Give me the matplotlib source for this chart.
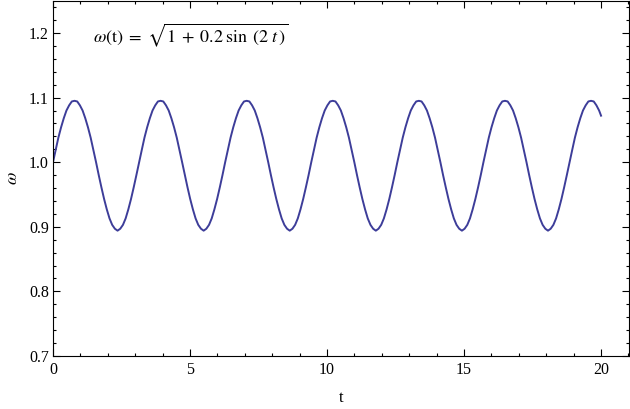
import matplotlib
matplotlib.use("Agg")
import matplotlib.pyplot as plt
from matplotlib.ticker import MultipleLocator

# samples of omega(t)
t = [0.000, 0.098, 0.196, 0.295, 0.393, 0.491, 0.589, 0.687,
     0.785, 0.884, 0.982, 1.080, 1.178, 1.276, 1.374, 1.473,
     1.571, 1.669, 1.767, 1.865, 1.963, 2.062, 2.160, 2.258,
     2.356, 2.454, 2.553, 2.651, 2.749, 2.847, 2.945, 3.043,
     3.142, 3.240, 3.338, 3.436, 3.534, 3.632, 3.731, 3.829,
     3.927, 4.025, 4.123, 4.222, 4.320, 4.418, 4.516, 4.614,
     4.712, 4.811, 4.909, 5.007, 5.105, 5.203, 5.301, 5.400,
     5.498, 5.596, 5.694, 5.792, 5.890, 5.989, 6.087, 6.185,
     6.283, 6.381, 6.480, 6.578, 6.676, 6.774, 6.872, 6.970,
     7.069, 7.167, 7.265, 7.363, 7.461, 7.559, 7.658, 7.756,
     7.854, 7.952, 8.050, 8.149, 8.247, 8.345, 8.443, 8.541,
     8.639, 8.738, 8.836, 8.934, 9.032, 9.130, 9.228, 9.327,
     9.425, 9.523, 9.621, 9.719, 9.817, 9.916, 10.014, 10.112,
     10.210, 10.308, 10.407, 10.505, 10.603, 10.701, 10.799, 10.897,
     10.996, 11.094, 11.192, 11.290, 11.388, 11.486, 11.585, 11.683,
     11.781, 11.879, 11.977, 12.075, 12.174, 12.272, 12.370, 12.468,
     12.566, 12.665, 12.763, 12.861, 12.959, 13.057, 13.155, 13.254,
     13.352, 13.450, 13.548, 13.646, 13.744, 13.843, 13.941, 14.039,
     14.137, 14.235, 14.334, 14.432, 14.530, 14.628, 14.726, 14.824,
     14.923, 15.021, 15.119, 15.217, 15.315, 15.413, 15.512, 15.610,
     15.708, 15.806, 15.904, 16.002, 16.101, 16.199, 16.297, 16.395,
     16.493, 16.592, 16.690, 16.788, 16.886, 16.984, 17.082, 17.181,
     17.279, 17.377, 17.475, 17.573, 17.671, 17.770, 17.868, 17.966,
     18.064, 18.162, 18.261, 18.359, 18.457, 18.555, 18.653, 18.751,
     18.850, 18.948, 19.046, 19.144, 19.242, 19.340, 19.439, 19.537,
     19.635, 19.733, 19.831, 19.929, 20.000]
omega = [1.000, 1.019, 1.038, 1.054, 1.068, 1.080, 1.088, 1.094,
         1.095, 1.094, 1.088, 1.080, 1.068, 1.054, 1.038, 1.019,
         1.000, 0.980, 0.961, 0.943, 0.927, 0.913, 0.903, 0.897,
         0.894, 0.897, 0.903, 0.913, 0.927, 0.943, 0.961, 0.980,
         1.000, 1.019, 1.038, 1.054, 1.068, 1.080, 1.088, 1.094,
         1.095, 1.094, 1.088, 1.080, 1.068, 1.054, 1.038, 1.019,
         1.000, 0.980, 0.961, 0.943, 0.927, 0.913, 0.903, 0.897,
         0.894, 0.897, 0.903, 0.913, 0.927, 0.943, 0.961, 0.980,
         1.000, 1.019, 1.038, 1.054, 1.068, 1.080, 1.088, 1.094,
         1.095, 1.094, 1.088, 1.080, 1.068, 1.054, 1.038, 1.019,
         1.000, 0.980, 0.961, 0.943, 0.927, 0.913, 0.903, 0.897,
         0.894, 0.897, 0.903, 0.913, 0.927, 0.943, 0.961, 0.980,
         1.000, 1.019, 1.038, 1.054, 1.068, 1.080, 1.088, 1.094,
         1.095, 1.094, 1.088, 1.080, 1.068, 1.054, 1.038, 1.019,
         1.000, 0.980, 0.961, 0.943, 0.927, 0.913, 0.903, 0.897,
         0.894, 0.897, 0.903, 0.913, 0.927, 0.943, 0.961, 0.980,
         1.000, 1.019, 1.038, 1.054, 1.068, 1.080, 1.088, 1.094,
         1.095, 1.094, 1.088, 1.080, 1.068, 1.054, 1.038, 1.019,
         1.000, 0.980, 0.961, 0.943, 0.927, 0.913, 0.903, 0.897,
         0.894, 0.897, 0.903, 0.913, 0.927, 0.943, 0.961, 0.980,
         1.000, 1.019, 1.038, 1.054, 1.068, 1.080, 1.088, 1.094,
         1.095, 1.094, 1.088, 1.080, 1.068, 1.054, 1.038, 1.019,
         1.000, 0.980, 0.961, 0.943, 0.927, 0.913, 0.903, 0.897,
         0.894, 0.897, 0.903, 0.913, 0.927, 0.943, 0.961, 0.980,
         1.000, 1.019, 1.038, 1.054, 1.068, 1.080, 1.088, 1.094,
         1.095, 1.094, 1.088, 1.080, 1.072]

x_ticks = [0, 5, 10, 15, 20]
y_ticks = [0.7, 0.8, 0.9, 1.0, 1.1, 1.2]

plt.rcParams['font.family'] = ['Liberation Serif', 'DejaVu Serif']
plt.rcParams['mathtext.fontset'] = 'stix'

fig = plt.figure(figsize=(6.3, 4.09), dpi=100)
ax = fig.add_axes([53 / 630, 1 - 356 / 409, 576 / 630, 355 / 409])

ax.plot(t, omega, color='#3d3d99', linewidth=1.4)

ax.set_xlim(0, 21.02)
ax.set_ylim(0.7, 1.2495)
ax.set_xticks(x_ticks)
ax.set_xticklabels([str(v) for v in x_ticks])
ax.set_yticks(y_ticks)
ax.set_yticklabels(['%.1f' % v for v in y_ticks])
ax.xaxis.set_minor_locator(MultipleLocator(1))
ax.yaxis.set_minor_locator(MultipleLocator(0.02))

ax.tick_params(which='both', direction='in', top=True, right=True,
               width=0.8, labelsize=11.5, colors='black')
ax.tick_params(axis='x', which='major', length=5, pad=4)
ax.tick_params(axis='y', which='major', length=5, pad=3)
ax.tick_params(which='minor', length=2.5)
for s in ax.spines.values():
    s.set_linewidth(0.8)

ax.set_xlabel('t', fontsize=12, labelpad=9)
ax.set_ylabel(r'$\omega$', fontsize=13, labelpad=6)

ax.text(1.46, 1.197,
        r'$\omega(\mathrm{t})\;=\;\sqrt{1\;+\;0.2\;\sin\;(2\;t\,)}$',
        fontsize=13, va='center', ha='left')

fig.savefig('out.png', dpi=100)
